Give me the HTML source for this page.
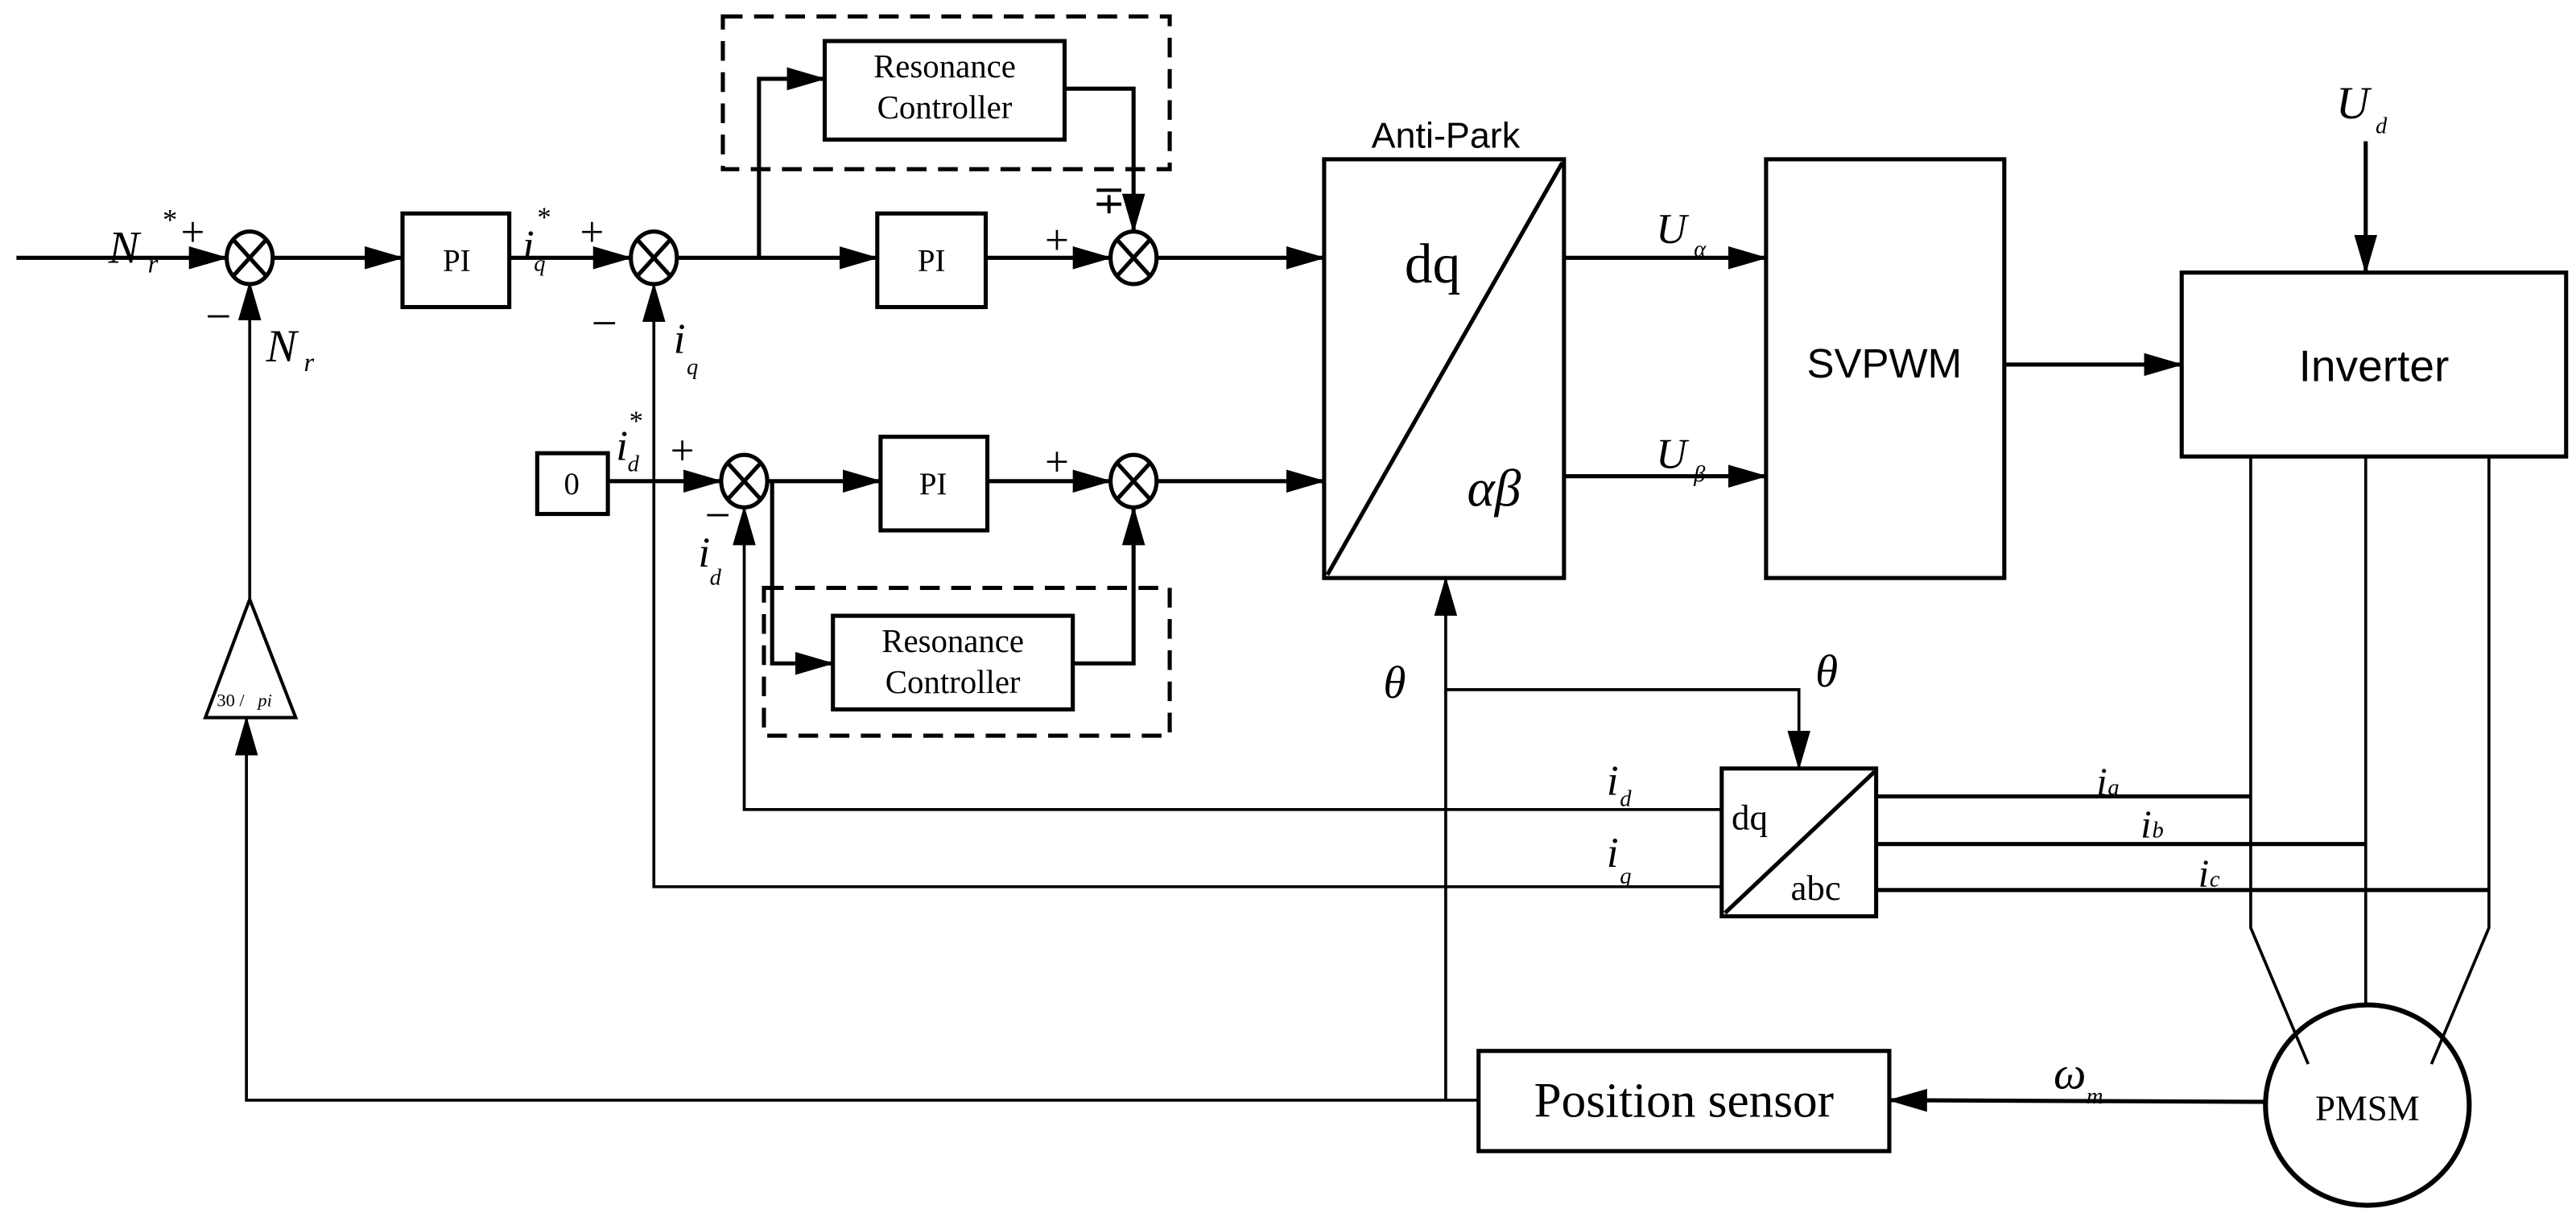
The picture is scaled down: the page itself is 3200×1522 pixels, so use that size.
<!DOCTYPE html>
<html><head><meta charset="utf-8"><style>
html,body{margin:0;padding:0;background:#fff;}
svg{display:block;}
.s{font-family:"Liberation Serif",serif;}
.a{font-family:"Liberation Sans",sans-serif;}
.i{font-family:"Liberation Serif",serif;font-style:italic;}
</style></head><body>
<svg width="3200" height="1522" viewBox="0 0 1568 746" preserveAspectRatio="none" xmlns="http://www.w3.org/2000/svg">
<defs>
<marker id="ar" markerUnits="userSpaceOnUse" markerWidth="24" markerHeight="14" refX="23" refY="7" orient="auto">
<path d="M0,0 L24,7 L0,14 Z" fill="#000"/>
</marker>
<g id="sum">
<ellipse cx="0" cy="0" rx="14" ry="16" fill="#fff" stroke="#000" stroke-width="2.5"/>
<line x1="-10" y1="-11" x2="10" y2="11" stroke="#000" stroke-width="2.5"/>
<line x1="10" y1="-11" x2="-10" y2="11" stroke="#000" stroke-width="2.5"/>
</g>
</defs>
<g fill="none" stroke="#000" stroke-width="2.5">
<!-- dashed boxes -->
<rect x="440" y="10" width="272" height="93" stroke-dasharray="12,7"/>
<rect x="465" y="358" width="247" height="90" stroke-dasharray="12,7"/>
<!-- top row -->
<line x1="10" y1="157" x2="138" y2="157" marker-end="url(#ar)"/>
<line x1="166" y1="157" x2="245" y2="157" marker-end="url(#ar)"/>
<rect x="245" y="130" width="65" height="57" fill="#fff"/>
<line x1="310" y1="157" x2="384" y2="157" marker-end="url(#ar)"/>
<line x1="412" y1="157" x2="534" y2="157" marker-end="url(#ar)"/>
<polyline points="462,157 462,48 502,48" marker-end="url(#ar)"/>
<rect x="502" y="25" width="146" height="60" fill="#fff"/>
<polyline points="648,54 690,54 690,141" marker-end="url(#ar)"/>
<rect x="534" y="130" width="66" height="57" fill="#fff"/>
<line x1="600" y1="157" x2="676" y2="157" marker-end="url(#ar)"/>
<line x1="704" y1="157" x2="806" y2="157" marker-end="url(#ar)"/>
<!-- bottom row -->
<rect x="327" y="276" width="43" height="37"/>
<line x1="370" y1="293" x2="439" y2="293" marker-end="url(#ar)"/>
<line x1="467" y1="293" x2="536" y2="293" marker-end="url(#ar)"/>
<rect x="536" y="266" width="65" height="57"/>
<polyline points="470,293 470,404 507,404" marker-end="url(#ar)"/>
<rect x="507" y="375" width="146" height="57" fill="#fff"/>
<polyline points="653,404 690,404 690,309" marker-end="url(#ar)"/>
<line x1="601" y1="293" x2="676" y2="293" marker-end="url(#ar)"/>
<line x1="704" y1="293" x2="806" y2="293" marker-end="url(#ar)"/>
<!-- anti park -->
<rect x="806" y="97" width="146" height="255"/>
<line x1="808" y1="350" x2="951" y2="99"/>
<line x1="952" y1="157" x2="1075" y2="157" marker-end="url(#ar)"/>
<line x1="952" y1="290" x2="1075" y2="290" marker-end="url(#ar)"/>
<rect x="1075" y="97" width="145" height="255"/>
<line x1="1220" y1="222" x2="1328" y2="222" marker-end="url(#ar)"/>
<rect x="1328" y="166" width="234" height="112"/>
<line x1="1440" y1="86" x2="1440" y2="166" marker-end="url(#ar)"/>
<!-- motor lines -->
<g stroke-width="1.8">
<polyline points="1370,278 1370,565 1405,648"/>
<polyline points="1440,278 1440,613"/>
<polyline points="1515,278 1515,565 1480,648"/>
</g>
<ellipse cx="1441" cy="673" rx="62" ry="61" stroke-width="3"/>
<line x1="1378" y1="671" x2="1150" y2="670" marker-end="url(#ar)"/>
<rect x="900" y="640" width="250" height="61"/>
<!-- feedback -->
<g stroke-width="1.8">
<polyline points="900,670 150,670 150,437" marker-end="url(#ar)"/>
<line x1="880" y1="670" x2="880" y2="352" marker-end="url(#ar)"/>
<polyline points="880,420 1095,420 1095,468" marker-end="url(#ar)"/>
<polyline points="152,365 152,172" marker-end="url(#ar)"/>
<polyline points="1048,493 453,493 453,309" marker-end="url(#ar)"/>
<polyline points="1048,540 398,540 398,173" marker-end="url(#ar)"/>
</g>
<polygon points="152,365 125,437 180,437" fill="#fff" stroke-width="2"/>
<rect x="1048" y="468" width="94" height="90" fill="#fff"/>
<line x1="1050" y1="556" x2="1141" y2="470"/>
<line x1="1142" y1="485" x2="1370" y2="485"/>
<line x1="1142" y1="514" x2="1440" y2="514"/>
<line x1="1142" y1="542" x2="1515" y2="542"/>
</g>
<use href="#sum" x="152" y="157"/>
<use href="#sum" x="398" y="157"/>
<use href="#sum" x="690" y="157"/>
<use href="#sum" x="453" y="293"/>
<use href="#sum" x="690" y="293"/>
<!-- text -->
<g class="s" fill="#000">
<text x="575" y="47" font-size="20" text-anchor="middle">Resonance</text>
<text x="575" y="72" font-size="20" text-anchor="middle">Controller</text>
<text x="580" y="397" font-size="20" text-anchor="middle">Resonance</text>
<text x="580" y="422" font-size="20" text-anchor="middle">Controller</text>
<text x="278" y="165" font-size="19" text-anchor="middle">PI</text>
<text x="567" y="165" font-size="19" text-anchor="middle">PI</text>
<text x="568" y="301" font-size="19" text-anchor="middle">PI</text>
<text x="348" y="301" font-size="19" text-anchor="middle">0</text>
<text x="855" y="172" font-size="34">dq</text>
<text x="1054" y="505" font-size="22">dq</text>
<text x="1090" y="548" font-size="22">abc</text>
<text x="1025" y="680" font-size="30" text-anchor="middle">Position sensor</text>
<text x="1441" y="682" font-size="22" text-anchor="middle">PMSM</text>
<text x="110" y="150" font-size="26">+</text>
<text x="353" y="150" font-size="26">+</text>
<text x="408" y="283" font-size="26">+</text>
<text x="636" y="155" font-size="26">+</text>
<text x="636" y="290" font-size="26">+</text>
<text x="665" y="130" font-size="24">∓</text>
<text x="125" y="202" font-size="28">−</text>
<text x="360" y="206" font-size="28">−</text>
<text x="429" y="323" font-size="28">−</text>
</g>
<g class="a" fill="#000">
<text x="880" y="90" font-size="22" text-anchor="middle">Anti-Park</text>
<text x="1147" y="230" font-size="25" text-anchor="middle">SVPWM</text>
<text x="1445" y="232" font-size="27" text-anchor="middle">Inverter</text>
</g>
<g class="i" fill="#000">
<text x="66" y="160" font-size="28">N</text><text x="90" y="166" font-size="16">r</text><text x="99" y="140" font-size="18" font-style="normal">*</text>
<text x="162" y="220" font-size="28">N</text><text x="185" y="226" font-size="16">r</text>
<text x="318" y="158" font-size="26">i</text><text x="325" y="165" font-size="14">q</text><text x="327" y="138" font-size="17" font-style="normal">*</text>
<text x="410" y="215" font-size="26">i</text><text x="418" y="228" font-size="14">q</text>
<text x="375" y="280" font-size="26">i</text><text x="382" y="287" font-size="14">d</text><text x="383" y="262" font-size="17" font-style="normal">*</text>
<text x="425" y="345" font-size="26">i</text><text x="432" y="356" font-size="14">d</text>
<text x="978" y="484" font-size="26">i</text><text x="986" y="491" font-size="14">d</text>
<text x="978" y="528" font-size="26">i</text><text x="986" y="538" font-size="14">q</text>
<text x="1276" y="484" font-size="24">i</text><text x="1283" y="484" font-size="14">a</text>
<text x="1303" y="510" font-size="24">i</text><text x="1310" y="510" font-size="14">b</text>
<text x="1338" y="540" font-size="24">i</text><text x="1345" y="540" font-size="14">c</text>
<text x="893" y="308" font-size="32">αβ</text>
<text x="1008" y="148" font-size="26">U</text><text x="1031" y="156" font-size="14">α</text>
<text x="1008" y="285" font-size="26">U</text><text x="1031" y="293" font-size="14">β</text>
<text x="1422" y="72" font-size="28">U</text><text x="1446" y="81" font-size="14">d</text>
<text x="842" y="425" font-size="28">θ</text>
<text x="1105" y="418" font-size="28">θ</text>
<text x="1250" y="663" font-size="28">ω</text><text x="1270" y="672" font-size="14">m</text>
<text x="132" y="430" font-size="11" font-style="normal">30 /</text><text x="157" y="430" font-size="11">pi</text>
</g>
</svg>
</body></html>
